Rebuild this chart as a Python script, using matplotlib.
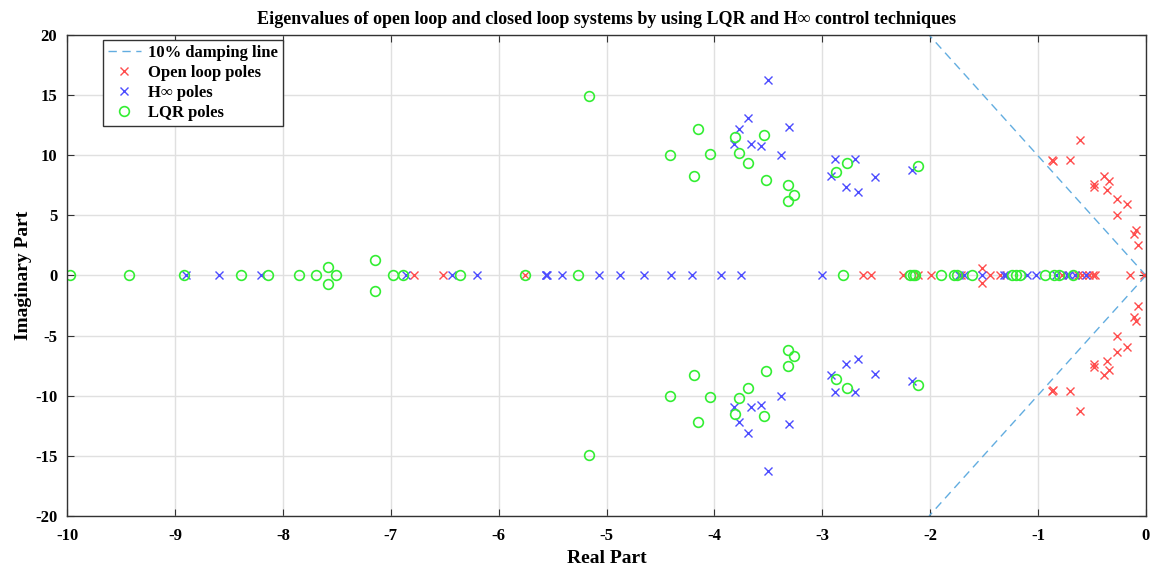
import numpy as np
import matplotlib
matplotlib.use('Agg')
import matplotlib.pyplot as plt

# open loop poles: complex pairs (upper half) and real poles
ol_re_c = [-0.61, -0.87, -0.86, -0.70, -0.39, -0.34, -0.48, -0.48, -0.36, -0.27, -0.18, -0.27, -0.09, -0.11, -0.07, -1.52]
ol_im_c = [11.25, 9.64, 9.53, 9.64, 8.25, 7.83, 7.64, 7.36, 7.14, 6.39, 5.97, 5.0, 3.81, 3.42, 2.5, 0.65]
ol_real = [-6.78, -6.52, -5.755, -2.62, -2.55, -2.255, -2.11, -1.99, -1.71, -1.45, -1.35,
           -0.78, -0.63, -0.59, -0.53, -0.49, -0.47, -0.15, -0.02]

# H-infinity closed loop poles
hinf_re_c = [-3.50, -3.69, -3.77, -3.31, -3.82, -3.66, -3.57, -3.38, -2.88, -2.70, -2.92, -2.78, -2.67, -2.51, -2.17]
hinf_im_c = [16.25, 13.06, 12.17, 12.36, 10.92, 10.97, 10.78, 10.0, 9.72, 9.67, 8.31, 7.36, 6.92, 8.17, 8.81]
hinf_real = [-8.90, -8.59, -8.20, -6.86, -6.43, -6.20, -5.56, -5.56, -5.55, -5.41, -5.07, -4.875,
             -4.65, -4.40, -4.205, -3.94, -3.75, -3.00, -1.73, -1.69, -1.52, -1.32, -1.30, -1.10,
             -1.02, -0.83, -0.73, -0.71, -0.66, -0.56]

# LQR closed loop poles
lqr_re_c = [-5.16, -4.15, -4.41, -4.04, -4.19, -3.81, -3.54, -3.77, -3.69, -3.52, -3.32, -3.26,
            -3.32, -2.77, -2.87, -2.11, -7.58, -7.15]
lqr_im_c = [14.9, 12.17, 10.06, 10.1, 8.25, 11.53, 11.67, 10.19, 9.36, 7.92, 7.5, 6.72,
            6.19, 9.39, 8.61, 9.08, 0.7, 1.33]
lqr_real = [-9.97, -9.43, -8.92, -8.39, -8.14, -7.85, -7.69, -7.51, -6.98, -6.89, -6.36, -5.755,
            -5.26, -2.81, -2.19, -2.16, -2.14, -1.90, -1.78, -1.755, -1.61, -1.245, -1.20, -1.17,
            -0.94, -0.85, -0.81, -0.68]

zeta = 0.1


def poles(re_c, im_c, real):
    re = np.concatenate([re_c, re_c, real])
    im = np.concatenate([im_c, -np.array(im_c), np.zeros(len(real))])
    return re, im


plt.rcParams['font.family'] = ['Liberation Serif', 'DejaVu Serif']
plt.rcParams['font.weight'] = 'bold'
plt.rcParams['axes.unicode_minus'] = False

fig = plt.figure(figsize=(11.58, 5.73), dpi=100)
ax = fig.add_axes([0.0579, 0.0995, 0.9317, 0.8394])

# damping line
slope = np.tan(np.arccos(zeta))
xd = np.array([0, -20 / slope])
ax.plot(xd, slope * xd, '--', color='#62ade0', lw=1, dashes=(6, 4), label='10% damping line')
ax.plot(xd, -slope * xd, '--', color='#62ade0', lw=1, dashes=(6, 4))

re, im = poles(ol_re_c, ol_im_c, ol_real)
ax.plot(re, im, 'x', color='#ff4d4d', ms=6, mew=1, label='Open loop poles')
re, im = poles(hinf_re_c, hinf_im_c, hinf_real)
ax.plot(re, im, 'x', color='#4d4dff', ms=6, mew=1, label='H\u221e poles')
re, im = poles(lqr_re_c, lqr_im_c, lqr_real)
ax.plot(re, im, 'o', mfc='none', mec='#33ee33', ms=7, mew=1.2, label='LQR poles')

ax.set_xlim(-10, 0)
ax.set_ylim(-20, 20)
ax.set_xticks(np.arange(-10, 1, 1))
ax.set_yticks(np.arange(-20, 21, 5))
ax.grid(True, color='#e0e0e0', lw=1)
ax.set_axisbelow(True)
ax.tick_params(direction='in', top=True, right=True, labelsize=12, length=5, color='#333333')
ax.tick_params(axis='x', pad=9)
ax.tick_params(axis='y', pad=7)
for s in ax.spines.values():
    s.set_color('#333333')
    s.set_linewidth(1)

ax.set_xlabel('Real Part', fontsize=14, fontweight='bold', labelpad=4)
ax.set_ylabel('Imaginary Part', fontsize=14, fontweight='bold', labelpad=2)
ax.set_title('Eigenvalues of open loop and closed loop systems by using LQR and H\u221e control techniques',
             fontsize=13, fontweight='bold', pad=8)

leg = ax.legend(loc='upper left', bbox_to_anchor=(0.033, 0.99), borderaxespad=0, fontsize=12,
                fancybox=False, framealpha=1, edgecolor='#333333', handlelength=2.0, borderpad=0.3,
                labelspacing=0.25, handletextpad=0.4)
leg.get_frame().set_linewidth(1)

fig.savefig('out.png', dpi=100)
